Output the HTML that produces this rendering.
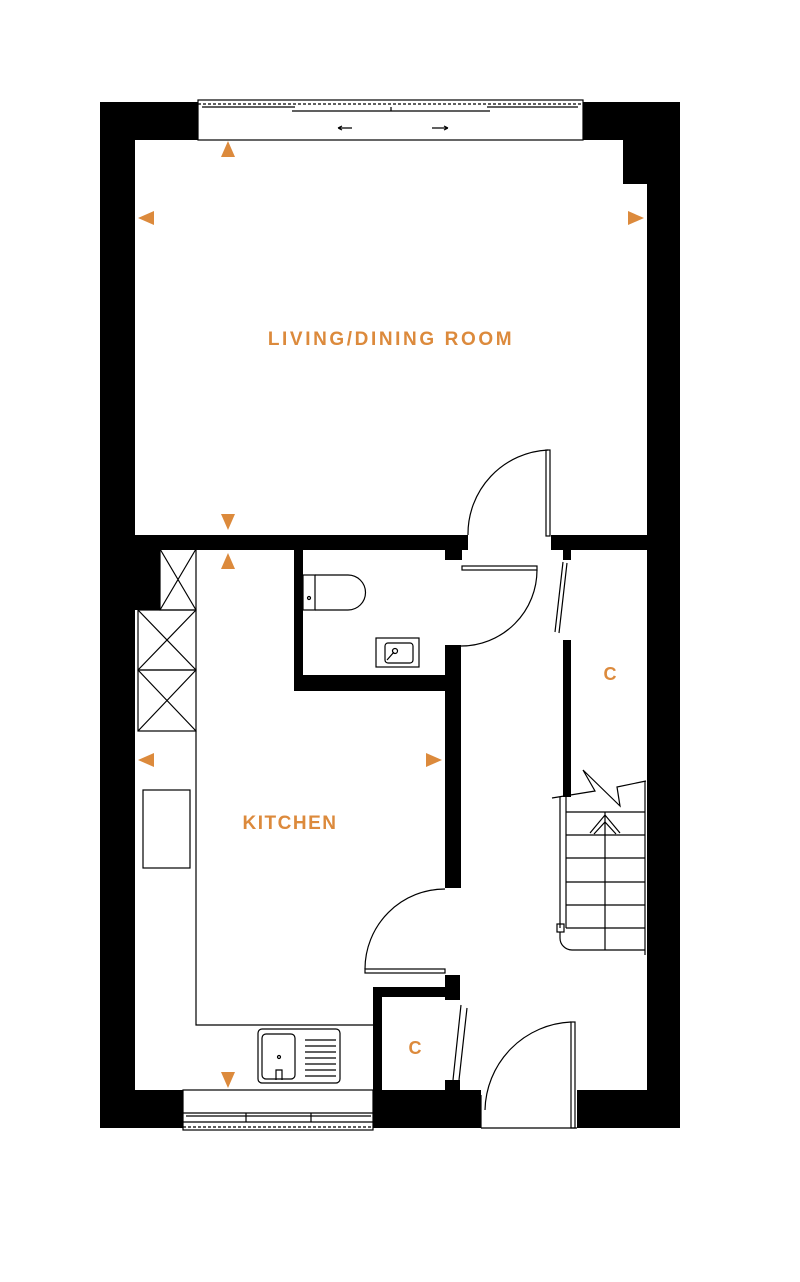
<!DOCTYPE html>
<html><head><meta charset="utf-8"><style>html,body{margin:0;padding:0;background:#fff}svg{display:block}</style></head>
<body>
<svg width="800" height="1282" viewBox="0 0 800 1282" xmlns="http://www.w3.org/2000/svg" font-family="'Liberation Sans',sans-serif">
<g fill="#000">
<rect x="100" y="102" width="35" height="1026"/>
<rect x="100" y="102" width="98" height="38"/>
<rect x="583" y="102" width="97" height="38"/>
<rect x="623" y="102" width="57" height="82"/>
<rect x="647" y="102" width="33" height="1026"/>
<rect x="100" y="1090" width="83" height="38"/>
<rect x="373" y="1090" width="108" height="38"/>
<rect x="577" y="1090" width="103" height="38"/>
<rect x="135" y="535" width="333" height="15"/>
<rect x="551" y="535" width="96" height="15"/>
<rect x="135" y="549" width="25" height="61"/>
<rect x="294" y="549" width="9" height="142"/>
<rect x="294" y="675" width="166" height="16"/>
<rect x="445" y="542" width="17" height="18"/>
<rect x="445" y="645" width="16" height="243"/>
<rect x="563" y="548" width="8" height="12"/>
<rect x="563" y="640" width="8" height="157"/>
<rect x="373" y="987" width="9" height="141"/>
<rect x="373" y="987" width="87" height="10"/>
<rect x="445" y="975" width="15" height="25"/>
<rect x="445" y="1080" width="15" height="12"/>
</g>
<g fill="none" stroke="#000" stroke-width="1.2">
<rect x="198" y="100" width="385" height="40" fill="#fff"/>
<line x1="198" y1="104" x2="583" y2="104" stroke-dasharray="3,2"/>
<path d="M202 107 H295 M292 111 H490 M487 107 H578 M391 107 V111"/>
<path d="M338 128 H352 M338 128 l4 -2 M338 128 l4 2 M432 128 H448 M448 128 l-4 -2 M448 128 l-4 2"/>
<rect x="546" y="450" width="4" height="86"/>
<path d="M548 450 A84 84 0 0 0 468 535"/>
<rect x="462" y="566" width="75" height="4"/>
<path d="M537 570 A76 76 0 0 1 461 646"/>
<path d="M563 562 L555 632 M567 563 L559 633"/>
<rect x="160" y="549" width="36" height="61"/>
<path d="M160 549 L196 610 M196 549 L160 610"/>
<rect x="138" y="610" width="58" height="60"/>
<path d="M138 610 L196 670 M196 610 L138 670"/>
<rect x="138" y="670" width="58" height="61"/>
<path d="M138 670 L196 731 M196 670 L138 731"/>
<path d="M196 731 V1025 H373"/>
<rect x="143" y="790" width="47" height="78"/>
<rect x="303" y="575" width="12" height="35"/>
<path d="M315 575 H348 A17 17 0 0 1 348 610 H315"/>
<circle cx="309" cy="598" r="1.5"/>
<rect x="376" y="638" width="43" height="29"/>
<rect x="385" y="643" width="28" height="20" rx="3"/>
<path d="M387 660 L394 652"/>
<circle cx="395" cy="651" r="2.5"/>
<rect x="258" y="1029" width="82" height="54" rx="4"/>
<rect x="262" y="1034" width="33" height="45" rx="4"/>
<circle cx="279" cy="1057" r="1.5"/>
<path d="M276 1080 V1070 H282 V1080"/>
<path d="M305 1040 H336 M305 1046 H336 M305 1052 H336 M305 1058 H336 M305 1064 H336 M305 1070 H336 M305 1076 H336"/>
<rect x="365" y="969" width="80" height="4"/>
<path d="M365 969 A80 80 0 0 1 445 889"/>
<path d="M461 1005 L453 1080 M467 1008 L459 1080"/>
<rect x="183" y="1090" width="190" height="40" fill="#fff"/>
<path d="M183 1113 H373 M186 1116 H371 M246 1113 V1122 M311 1113 V1122 M183 1122 H373"/>
<line x1="183" y1="1127" x2="373" y2="1127" stroke-dasharray="3,2"/>
<rect x="481" y="1095" width="96" height="35" stroke="none" fill="#fff"/>
<line x1="481" y1="1128" x2="577" y2="1128"/>
<line x1="481" y1="1095" x2="481" y2="1128"/>
<rect x="571" y="1022" width="4" height="106"/>
<path d="M571 1022 A90 90 0 0 0 485 1110"/>
<path d="M560 797 V928 M566 797 V928"/>
<rect x="557" y="924" width="7" height="8"/>
<path d="M560 932 V938 A12 12 0 0 0 572 950 H645"/>
<path d="M566 812 H645 M566 835 H645 M566 858 H645 M566 882 H645 M566 905 H645 M566 928 H645"/>
<path d="M605 812 V950"/>
<path d="M590 833 L605 815 L620 833 M594 834 L605 822 L616 834"/>
<path d="M552 798 L595 791 L583 770 L620 806 L617 787 L646 781"/>
<path d="M645 781 V955"/>
</g>
<g fill="#dc8a3c">
<polygon points="221,157 235,157 228,141"/>
<polygon points="154,211 154,225 138,218"/>
<polygon points="628,211 628,225 644,218"/>
<polygon points="221,514 235,514 228,530"/>
<polygon points="221,569 235,569 228,553"/>
<polygon points="154,753 154,767 138,760"/>
<polygon points="426,753 426,767 442,760"/>
<polygon points="221,1072 235,1072 228,1088"/>
</g>
<g fill="#dc8a3c" font-weight="bold" text-anchor="middle">
<text x="391" y="345" font-size="19" letter-spacing="2.6">LIVING/DINING ROOM</text>
<text x="290" y="829" font-size="19" letter-spacing="1.5">KITCHEN</text>
<text x="610" y="680" font-size="18">C</text>
<text x="415" y="1054" font-size="18">C</text>
</g>
</svg>
</body></html>
